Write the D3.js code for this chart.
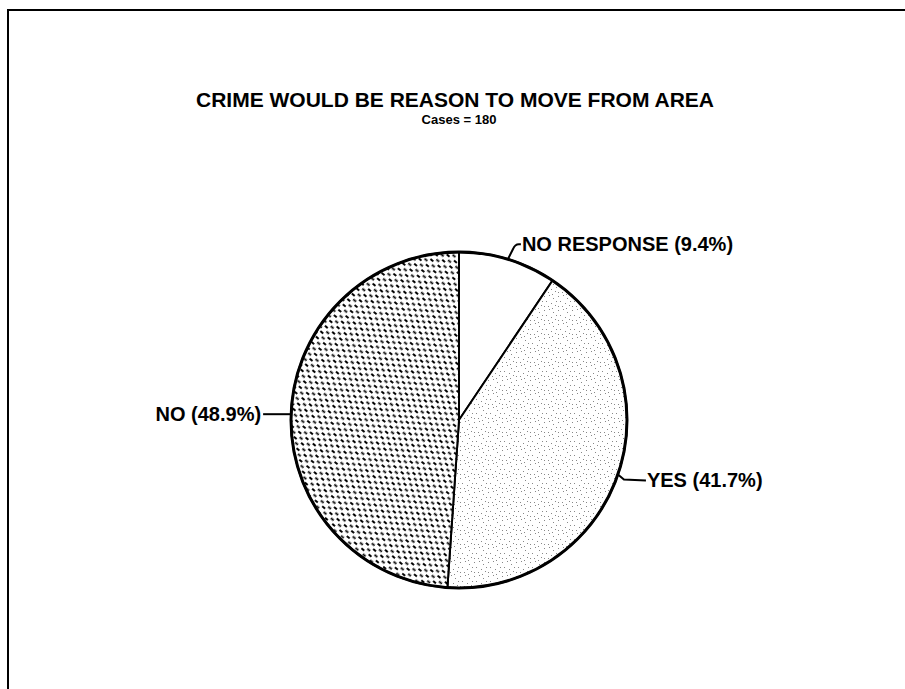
<!DOCTYPE html>
<html><head><meta charset="utf-8">
<script src="https://cdn.jsdelivr.net/npm/d3@7"></script>
<style>body{margin:0;background:#fff}svg{display:block}text{font-family:"Liberation Sans",Arial,Helvetica,sans-serif;font-weight:bold;fill:#000}</style>
</head><body>
<script>
const title = "CRIME WOULD BE REASON TO MOVE FROM AREA";
const subtitle = "Cases = 180";
const categories = ["NO RESPONSE", "YES", "NO"];
const values = [9.4, 41.7, 48.9];
const labels = ["NO RESPONSE (9.4%)", "YES (41.7%)", "NO (48.9%)"];

const W = 905, H = 689, cx = 459, cy = 420, R = 168;
const svg = d3.select("body").append("svg").attr("width", W).attr("height", H);
const defs = svg.append("defs");

// diagonal dash pattern (rotated lattice, dashes along the "\" direction)
const PW = 9.5, PH = 7;
const p1 = defs.append("pattern").attr("id","dash").attr("patternUnits","userSpaceOnUse")
  .attr("width",PW).attr("height",PH).attr("patternTransform","rotate(40)");
p1.append("rect").attr("width",PW).attr("height",PH).attr("fill","#fff");
[[0,0],[PW,0],[0,PH],[PW,PH],[PW/2,PH/2]].forEach(([x,y])=>{
  p1.append("line").attr("x1",x-1.8).attr("y1",y).attr("x2",x+1.8).attr("y2",y)
    .attr("stroke","#000").attr("stroke-width",1.8);
});
// stipple pattern
const p2 = defs.append("pattern").attr("id","dots").attr("patternUnits","userSpaceOnUse")
  .attr("width",14).attr("height",14);
p2.append("rect").attr("width",14).attr("height",14).attr("fill","#fff");
[[1,2],[6,1],[10,4],[3,7],[8,9],[12,11],[1,12],[5,12],[13,7],[9,0]].forEach(([x,y])=>{
  p2.append("rect").attr("x",x).attr("y",y).attr("width",1).attr("height",1).attr("fill","#888");
});
const fills = {"NO RESPONSE":"#fff","YES":"url(#dots)","NO":"url(#dash)"};

// frame (left and top edges)
svg.append("path").attr("d",`M8,${H} L8,10 L${W},10`).attr("fill","none").attr("stroke","#000").attr("stroke-width",2);

svg.append("text").attr("x",455).attr("y",107).attr("text-anchor","middle").attr("font-size",21).text(title);
svg.append("text").attr("x",459).attr("y",124).attr("text-anchor","middle").attr("font-size",13).text(subtitle);

const data = categories.map((c,i)=>({cat:c,value:values[i],label:labels[i]}));
const pie = d3.pie().sort(null).value(d=>d.value).startAngle(0).endAngle(2*Math.PI);
const arcs = pie(data);
const arc = d3.arc().innerRadius(0).outerRadius(R);
const g = svg.append("g").attr("transform",`translate(${cx},${cy})`);
g.selectAll("path.slice").data(arcs).join("path").attr("class","slice")
  .attr("d",arc).attr("fill",d=>fills[d.data.cat]).attr("stroke","#000").attr("stroke-width",2);
g.append("circle").attr("r",R).attr("fill","none").attr("stroke","#000").attr("stroke-width",3);

// leaders and labels
arcs.forEach(a=>{
  const m = (a.startAngle+a.endAngle)/2;
  const px = R*Math.sin(m), py = -R*Math.cos(m);
  let d, tx, ty, anchor;
  if (a.data.cat === "NO RESPONSE") {
    d = `M${px},${py} L${px+5},${py-10} Q${px+7},${py-15} ${px+11},${py-15} L${px+13},${py-15}`;
    tx = px+14; ty = py-8; anchor = "start";
  } else if (a.data.cat === "YES") {
    d = `M${px},${py} L${px+6},${py+5} L${px+28},${py+6}`;
    tx = px+29; ty = py+13; anchor = "start";
  } else {
    d = `M${px},${py} L${px-28},${py}`;
    tx = px-30; ty = py+7; anchor = "end";
  }
  g.append("path").attr("d",d).attr("fill","none").attr("stroke","#000").attr("stroke-width",2);
  g.append("text").attr("x",tx).attr("y",ty).attr("text-anchor",anchor).attr("font-size",20).text(a.data.label);
});
</script>
</body></html>
